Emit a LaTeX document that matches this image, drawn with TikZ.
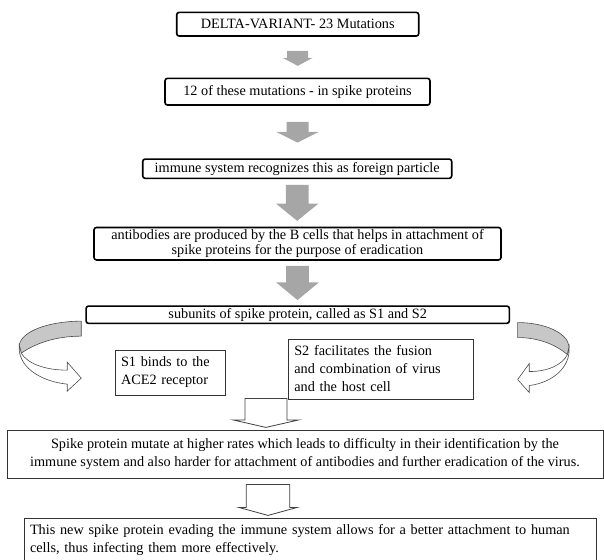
\documentclass[tikz,border=0pt]{standalone}
\usepackage{fontspec}
\setmainfont{Liberation Serif}
\usetikzlibrary{calc}

\begin{document}
\begin{tikzpicture}[x=1pt,y=-1pt,line join=miter,
        every node/.style={font=\fontsize{14.25}{18}\selectfont, inner sep=0pt},
        bigbox/.style={draw, line width=1.6pt, rounded corners=2.5pt, align=center},
        thinbox/.style={draw=black!80, line width=0.8pt, align=left, inner xsep=6pt},
        garrow/.style={fill=black!35, draw=none},
        harrow/.style={fill=white, draw=black!75, line width=0.8pt},
        rib/.style={fill=black!22, draw=black!70, line width=0.6pt},
        ribw/.style={fill=white, draw=black!70, line width=0.6pt},
        pics/blkdown/.style n args={4}{code={
            \path[pic actions] (-#2,0) -- (#2,0) -- (#2,#1-#4) -- (#3,#1-#4) -- (0,#1)
                -- (-#3,#1-#4) -- (-#2,#1-#4) -- cycle;}},
        pics/curvearr/.style={code={
            \path[rib] (0,0) .. controls (-32,0) and (-60,10) .. (-62,24) -- (-60,32)
                .. controls (-47,23) and (-27,15) .. (0,15) -- cycle;
            \path[ribw] (-62,24) .. controls (-64,45) and (-42,60) .. (-14,63) -- (-14,70)
                -- (0,57) -- (-14,41) -- (-14,49) .. controls (-37,49) and (-54,42) .. (-60,32) -- cycle;}}]
    \useasboundingbox (0,0) rectangle (604,559);

    \node[bigbox, minimum width=242, minimum height=23.7] (b1) at (297.7,24.2) {DELTA-VARIANT- 23 Mutations};
    \node[bigbox, minimum width=265, minimum height=26.7] (b2) at (297.5,91.7) {12 of these mutations - in spike proteins};
    \node[bigbox, minimum width=309, minimum height=19.3] (b3) at (297.2,168.7) {immune system recognizes this as foreign particle};
    \node[bigbox, minimum width=407, minimum height=32.5, font=\fontsize{14.25}{15.5}\selectfont] (b4) at (297.5,243.7)
        {antibodies are produced by the B cells that helps in attachment of\\ spike proteins for the purpose of eradication};
    \node[bigbox, minimum width=423.3, minimum height=17.3] (b5) at (297.7,314.7) {subunits of spike protein, called as S1 and S2};
    \node[thinbox, text width=98, minimum height=45] (s1) at (170,372.5) {S1 binds to the\\ ACE2 receptor};
    \node[thinbox, text width=173, minimum height=60] (s2) at (380.8,369)
        {S2 facilitates the fusion\\ and combination of virus\\ and the host cell};
    \node[thinbox, align=center, minimum width=596, minimum height=48] (b6) at (305,454)
        {Spike protein mutate at higher rates which leads to difficulty in their identification by the\\
         immune system and also harder for attachment of antibodies and further eradication of the virus.};
    \node[thinbox, text width=560, minimum height=44] (b7) at (310,540)
        {This new spike protein evading the immune system allows for a better attachment to human\\
         cells, thus infecting them more effectively.};

    \pic[garrow] at ($(b1.south)+(0,14)$) {blkdown={15}{10.5}{15}{8}};
    \pic[garrow] at ($(b2.south)+(0,16)$) {blkdown={20.7}{11}{21.3}{10.7}};
    \pic[garrow] at ($(b3.south)+(0,5.7)$) {blkdown={36}{11.3}{21.3}{17.3}};
    \pic[garrow] at ($(b4.south)+(0,5)$) {blkdown={34.3}{11.3}{21.3}{17.6}};
    \pic at ($(b5.south west)+(-4,-3)$) {curvearr};
    \pic[xscale=-0.83] at ($(b5.south east)+(7.5,-1.6)$) {curvearr};
    \pic[harrow] at ($(s2.south west)+(-22,-1)$) {blkdown={29}{21}{33}{7.5}};
    \pic[harrow] at ($(b6.south)+(-37,6)$) {blkdown={31}{21.7}{29.3}{8}};
\end{tikzpicture}
\end{document}
